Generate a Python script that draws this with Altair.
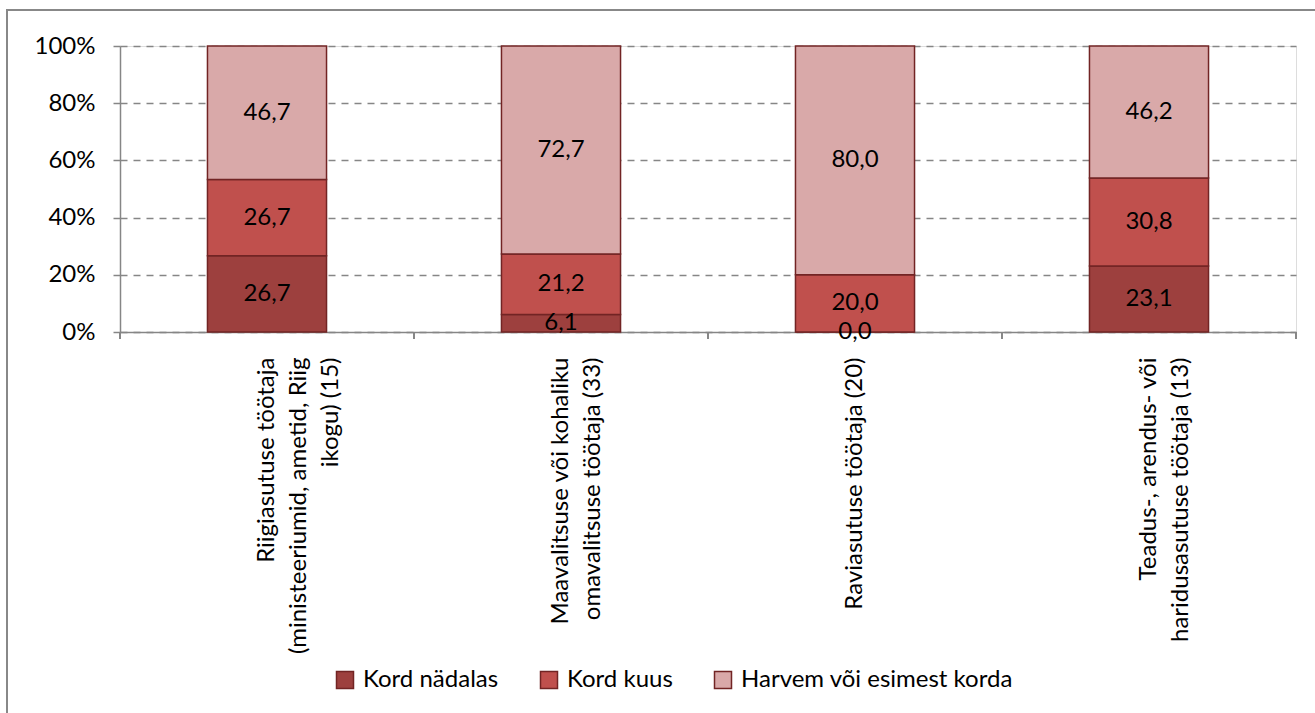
import altair as alt
import pandas as pd

# ---- data ----
categories = [
    "Riigiasutuse töötaja|(ministeeriumid, ametid, Riig|ikogu) (15)",
    "Maavalitsuse või kohaliku|omavalitsuse töötaja (33)",
    "Raviasutuse töötaja (20)",
    "Teadus-, arendus- või|haridusasutuse töötaja (13)",
]
series_names = ["Kord nädalas", "Kord kuus", "Harvem või esimest korda"]
kord_nadalas = [26.7, 6.1, 0.0, 23.1]
kord_kuus = [26.7, 21.2, 20.0, 30.8]
harvem = [46.7, 72.7, 80.0, 46.2]
series_colors = ["#9D403E", "#C0504D", "#D9A9A9"]

rows = []
for s_i, (name, vals) in enumerate(zip(series_names, [kord_nadalas, kord_kuus, harvem])):
    for c, v in zip(categories, vals):
        rows.append({"cat": c, "series": name, "order": s_i, "value": v})
df = pd.DataFrame(rows)

FONT = "Lato"
W, H = 1176, 286

base = alt.Chart(df).transform_stack(
    stack="value", groupby=["cat"], as_=["y0", "y1"], offset="normalize",
    sort=[alt.SortField("order", order="ascending")],
).transform_calculate(
    mid="(datum.y0 + datum.y1) / 2",
    label="replace(format(datum.value, '.1f'), '.', ',')",
)

xscale = alt.Scale(domain=categories, paddingInner=0, paddingOuter=0)

bars = base.mark_bar(
    width=alt.RelativeBandSize(0.405), stroke="#722424", strokeWidth=1.5
).encode(
    x=alt.X("cat:N", scale=xscale, title=None,
            axis=alt.Axis(labelAngle=-90, labelAlign="right", labelBaseline="middle",
                          labelExpr="split(datum.label, '|')", labelLineHeight=32,
                          labelPadding=25, ticks=False, domainColor="#868686",
                          domainWidth=1.5, labelFont=FONT, labelFontSize=24,
                          labelColor="black", labelLimit=0, grid=False)),
    y=alt.Y("y0:Q", scale=alt.Scale(domain=[0, 1], nice=False), title=None,
            axis=alt.Axis(format="%", values=[0, 0.2, 0.4, 0.6, 0.8, 1.0],
                          grid=True, gridDash=[7, 6], gridColor="#868686",
                          gridWidth=1.3, domainColor="#868686", domainWidth=1.5,
                          tickColor="#868686", tickSize=7, tickWidth=1.5,
                          labelPadding=18, labelFont=FONT, labelFontSize=24,
                          labelColor="black")),
    y2="y1:Q",
    color=alt.Color("series:N", scale=alt.Scale(domain=series_names, range=series_colors),
                    sort=series_names,
                    legend=alt.Legend(title=None, orient="none", direction="horizontal",
                                      legendX=213, legendY=622, symbolType="square",
                                      symbolSize=289, symbolStrokeColor="#722424",
                                      symbolStrokeWidth=1.5, labelFont=FONT,
                                      labelFontSize=24, labelColor="black",
                                      labelLimit=600,
                                      columnPadding=38, labelOffset=6, padding=0,
                                      symbolOpacity=1)),
    order=alt.Order("order:Q"),
)

texts = base.mark_text(font=FONT, fontSize=24, color="black",
                       align="center", baseline="middle").encode(
    x=alt.X("cat:N", scale=xscale),
    y=alt.Y("mid:Q"),
    text="label:N",
)

ticks_left = base.mark_rule(color="#868686", strokeWidth=1.5).encode(
    x=alt.X("cat:N", scale=xscale, bandPosition=0),
    y=alt.value(H), y2=alt.value(H + 7),
)
ticks_right = base.transform_filter(
    alt.datum.cat == categories[-1]
).mark_rule(color="#868686", strokeWidth=1.5).encode(
    x=alt.X("cat:N", scale=xscale, bandPosition=1),
    y=alt.value(H), y2=alt.value(H + 7),
)

frame = alt.Chart(pd.DataFrame({"f": [0]})).mark_rect(
    fill=None, stroke="#888888", strokeWidth=2
).encode(
    x=alt.value(-113), x2=alt.value(1205), y=alt.value(-36), y2=alt.value(680),
)

chart = alt.layer(frame, bars, texts, ticks_left, ticks_right).properties(
    width=W, height=H,
    autosize=alt.AutoSizeParams(type="none"),
    padding={"left": 120, "top": 46, "right": 19, "bottom": 381},
).configure_view(stroke=None).configure(background="white")

chart.save("out.html", embed_options={"renderer": "svg", "actions": False})
